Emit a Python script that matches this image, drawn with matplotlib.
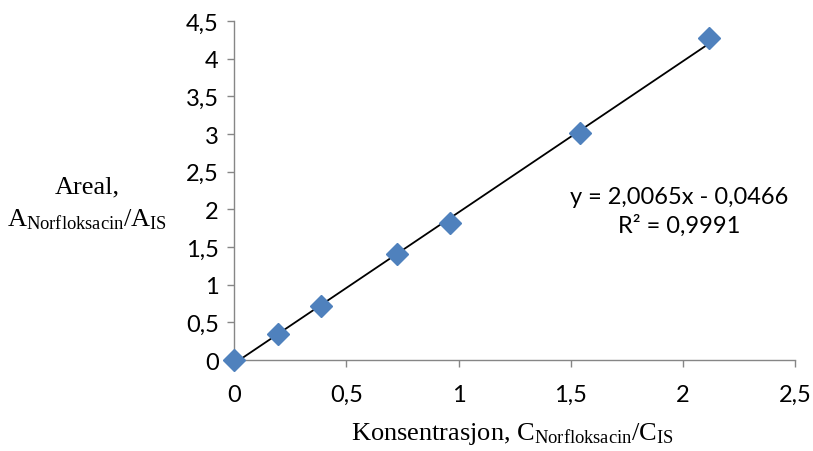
import numpy as np
import matplotlib.pyplot as plt

# Calibration data
konsentrasjon = [0.0, 0.196, 0.388, 0.726, 0.963, 1.54, 2.117]
areal = [0.0, 0.345, 0.717, 1.41, 1.82, 3.01, 4.28]

slope = 2.0065
intercept = -0.0466
r2_text = "R² = 0,9991"
eq_text = "y = 2,0065x - 0,0466"

x_ticks = [0, 0.5, 1, 1.5, 2, 2.5]
y_ticks = [0, 0.5, 1, 1.5, 2, 2.5, 3, 3.5, 4, 4.5]


def comma(v):
    s = f"{v:g}"
    return s.replace(".", ",")


plt.rcParams['mathtext.fontset'] = 'custom'
plt.rcParams['mathtext.rm'] = 'Liberation Serif'
plt.rcParams['mathtext.it'] = 'Liberation Serif:italic'

fig = plt.figure(figsize=(8.13, 4.52), dpi=100)
ax = fig.add_axes([0.288, 0.2013, 0.690, 0.750])

# trendline
xl = np.array([0.0, max(konsentrasjon)])
ax.plot(xl, slope * xl + intercept, color='black', lw=1.3, zorder=2)
ax.plot(konsentrasjon, areal, linestyle='none', marker='D', markersize=11,
        color='#4F81BD', markeredgecolor='#4F81BD', zorder=3, clip_on=False)

ax.set_xlim(0, 2.5)
ax.set_ylim(0, 4.5)
ax.set_xticks(x_ticks)
ax.set_yticks(y_ticks)
ax.set_xticklabels([comma(v) for v in x_ticks], fontfamily='Lato', fontsize=17)
ax.set_yticklabels([comma(v) for v in y_ticks], fontfamily='Lato', fontsize=17)

for side in ['top', 'right']:
    ax.spines[side].set_visible(False)
for side in ['left', 'bottom']:
    ax.spines[side].set_color('#868686')
    ax.spines[side].set_linewidth(1)
ax.tick_params(axis='y', direction='out', length=5, color='#868686', width=1, pad=6)
ax.tick_params(axis='x', direction='out', length=5, color='#868686', width=1, pad=12)

ax.text(0.793, 0.483, eq_text, transform=ax.transAxes, ha='center', va='center',
        fontfamily='Lato', fontsize=17)
ax.text(0.793, 0.398, r2_text, transform=ax.transAxes, ha='center', va='center',
        fontfamily='Lato', fontsize=17)

fig.text(0.107, 0.585, "Areal,", ha='center', va='center',
         fontfamily='Liberation Serif', fontsize=19)
fig.text(0.107, 0.515, r"$\mathrm{A_{Norfloksacin}/A_{IS}}$", ha='center', va='center',
         fontsize=19)
fig.text(0.63, 0.04, r"Konsentrasjon, $\mathrm{C_{Norfloksacin}/C_{IS}}$",
         ha='center', va='center', fontfamily='Liberation Serif', fontsize=19)

fig.savefig('out.png', dpi=100)
